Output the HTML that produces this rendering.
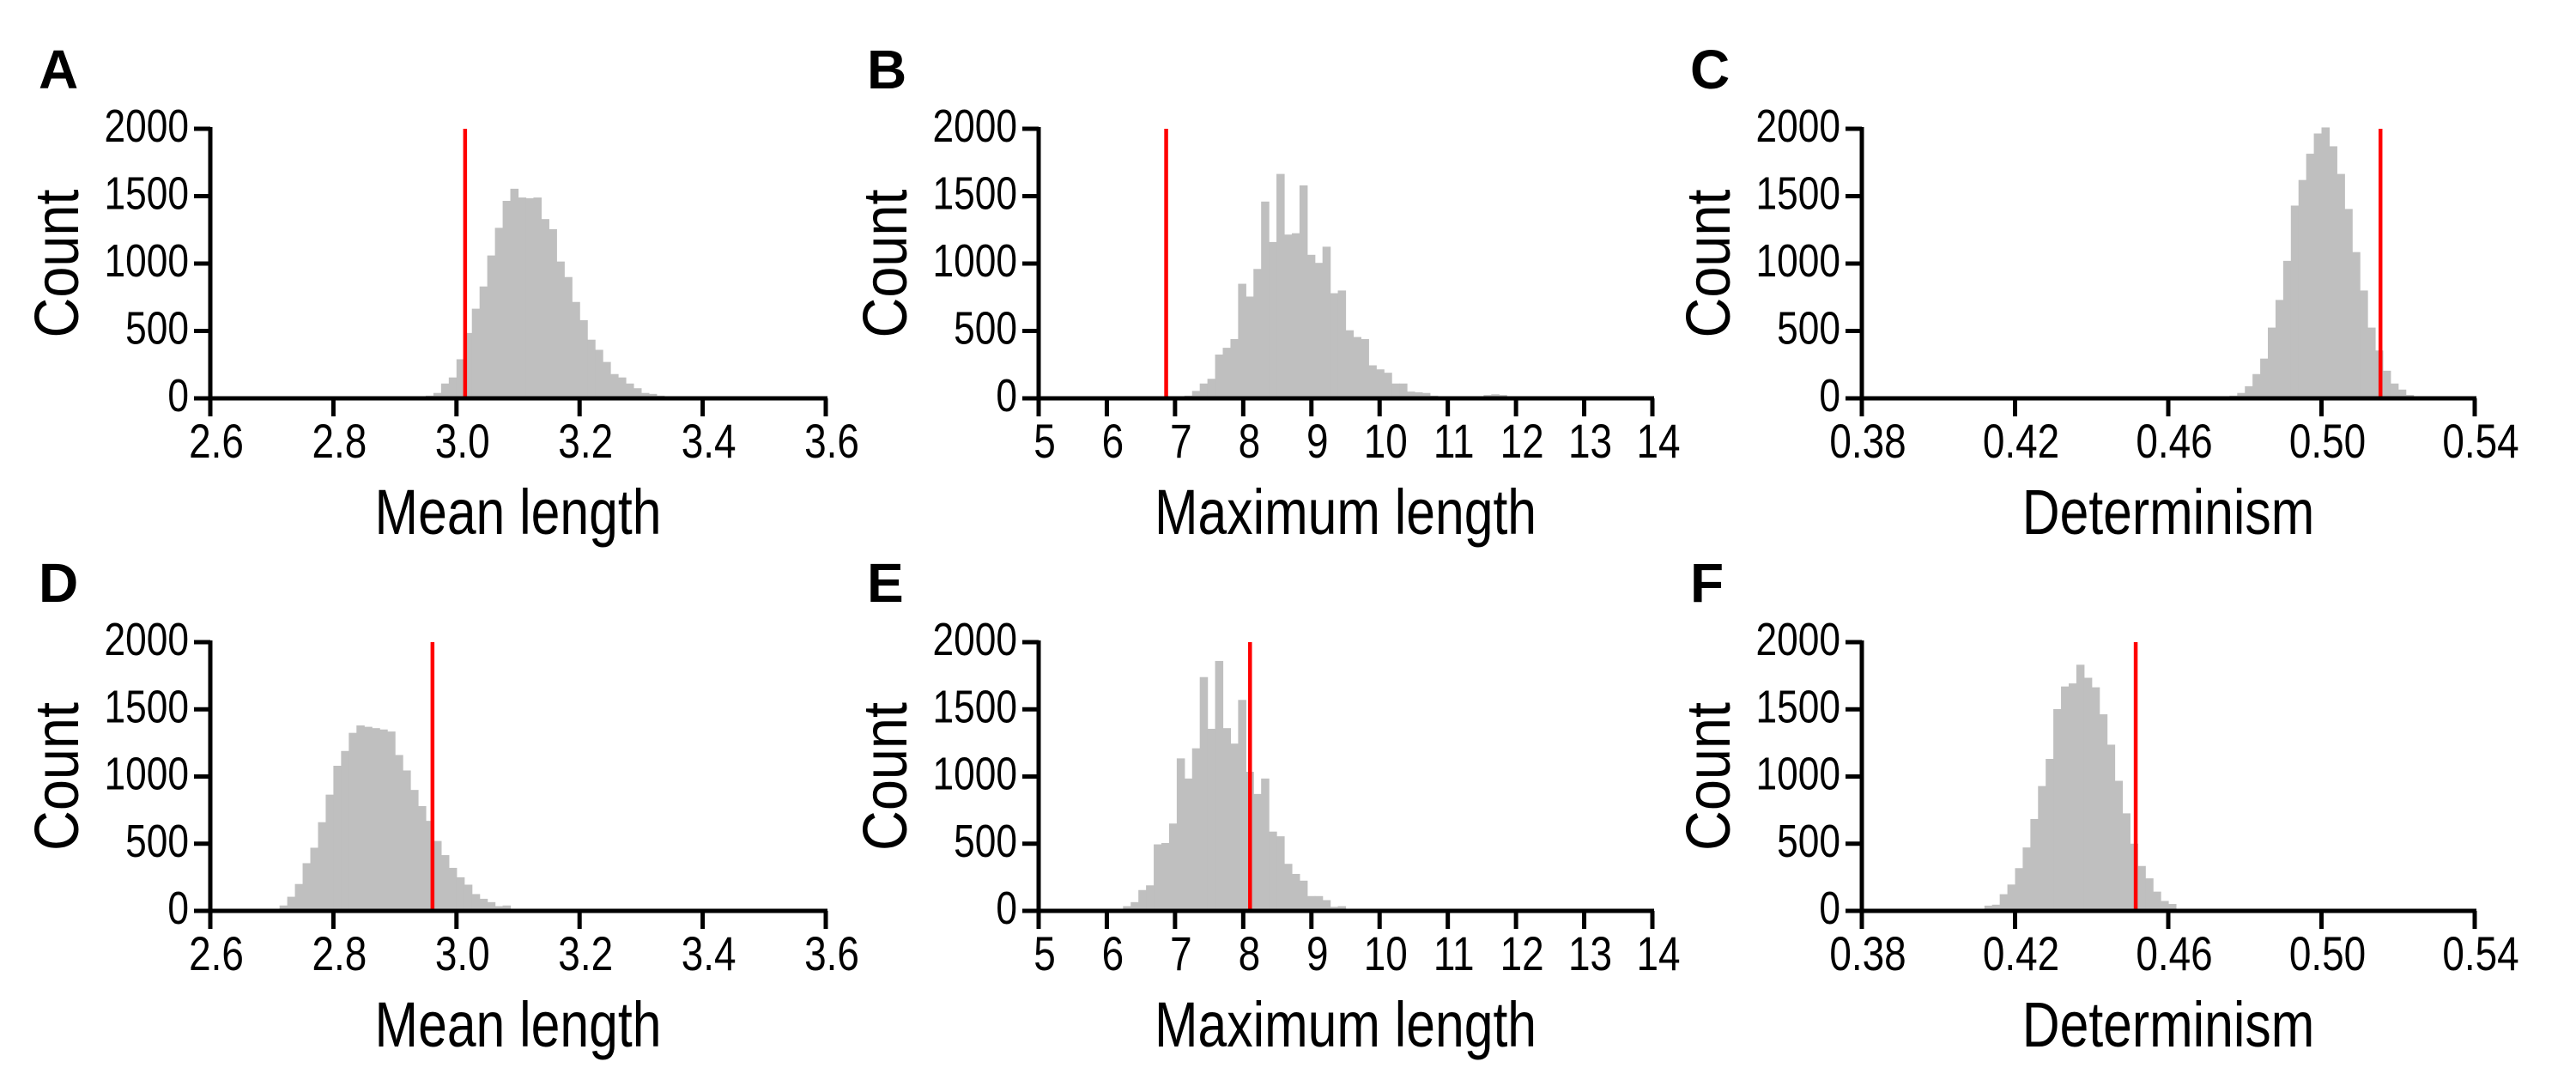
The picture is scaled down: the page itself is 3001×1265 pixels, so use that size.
<!DOCTYPE html>
<html><head><meta charset="utf-8"><title>Histograms</title>
<style>
html,body{margin:0;padding:0;background:#fff;}
svg{display:block;font-family:"Liberation Sans",Arial,sans-serif;}
</style></head>
<body>
<svg id="fig" width="3001" height="1265" viewBox="0 0 3001 1265" xmlns="http://www.w3.org/2000/svg"></svg>
<script>
// ---- data ----
const aStart = 2.95, aBin = 0.0125, aObserved = 3.014;
const aCounts = [20,40,110,155,290,485,665,830,1060,1265,1465,1555,1490,1485,1490,1330,1255,1015,900,715,580,435,360,270,180,155,110,75,40,33,20,10];
const bStart = 7.1375, bBin = 0.1125, bObserved = 6.87;
const bCounts = [20,55,110,145,325,375,440,850,755,960,1460,1160,1665,1215,1225,1580,1065,1005,1125,780,800,505,455,440,245,215,190,110,110,50,45,40,20,10,10,10,10,15,15,25,30,25,15,10,10,5];
const cStart = 0.476, cBin = 0.002, cObserved = 0.5154;
const cCounts = [20,40,90,180,295,525,730,1020,1430,1620,1815,1965,2010,1870,1665,1405,1085,800,525,355,205,110,65,25];
const dStart = 2.70, dBin = 0.0125, dObserved = 2.961;
const dCounts = [10,40,105,200,355,470,660,865,1080,1190,1325,1380,1370,1360,1350,1335,1160,1045,900,780,670,520,415,320,250,195,125,90,65,35,40,10];
const eStart = 6.2375, eBin = 0.1125, eObserved = 8.10;
const eCounts = [35,65,155,190,495,505,650,1135,985,1210,1740,1355,1860,1360,1245,1570,1035,870,985,590,555,350,275,225,110,110,80,30,35];
const fStart = 0.412, fBin = 0.002, fObserved = 0.4515;
const fCounts = [39,46,124,196,318,472,684,929,1131,1502,1670,1693,1832,1735,1664,1463,1237,968,726,500,334,242,143,74,51,12];

const meanTicks = [2.6,2.8,3.0,3.2,3.4,3.6];
const meanTickLabels = ["2.6","2.8","3.0","3.2","3.4","3.6"];
const maxTicks = [5,6,7,8,9,10,11,12,13,14];
const maxTickLabels = ["5","6","7","8","9","10","11","12","13","14"];
const detTicks = [0.38,0.42,0.46,0.50,0.54];
const detTickLabels = ["0.38","0.42","0.46","0.50","0.54"];
const countTicks = [0,500,1000,1500,2000];
const countTickLabels = ["0","500","1000","1500","2000"];

// ---- layout ----
const NS = "http://www.w3.org/2000/svg";
const svg = document.getElementById('fig');
function mk(tag, attrs, parent){
  const e = document.createElementNS(NS, tag);
  for (const k in attrs) e.setAttribute(k, attrs[k]);
  (parent||svg).appendChild(e);
  return e;
}
const SX = 0.82;
const panels = [
  {id:'a', letter:'A', left:245, width:717, top:150, zero:464, dom:[2.6,3.6], ticks:meanTicks, labels:meanTickLabels, title:'Mean length', start:aStart, bin:aBin, counts:aCounts, obs:aObserved},
  {id:'b', letter:'B', left:1210, width:715, top:150, zero:464, dom:[5,14], ticks:maxTicks, labels:maxTickLabels, title:'Maximum length', start:bStart, bin:bBin, counts:bCounts, obs:bObserved},
  {id:'c', letter:'C', left:2169, width:714, top:150, zero:464, dom:[0.38,0.54], ticks:detTicks, labels:detTickLabels, title:'Determinism', start:cStart, bin:cBin, counts:cCounts, obs:cObserved},
  {id:'d', letter:'D', left:245, width:717, top:748, zero:1061, dom:[2.6,3.6], ticks:meanTicks, labels:meanTickLabels, title:'Mean length', start:dStart, bin:dBin, counts:dCounts, obs:dObserved},
  {id:'e', letter:'E', left:1210, width:715, top:748, zero:1061, dom:[5,14], ticks:maxTicks, labels:maxTickLabels, title:'Maximum length', start:eStart, bin:eBin, counts:eCounts, obs:eObserved},
  {id:'f', letter:'F', left:2169, width:714, top:748, zero:1061, dom:[0.38,0.54], ticks:detTicks, labels:detTickLabels, title:'Determinism', start:fStart, bin:fBin, counts:fCounts, obs:fObserved}
];

panels.forEach(p => {
  const g = mk('g', {});
  
  
  const xs = v => p.left + (v - p.dom[0]) / (p.dom[1] - p.dom[0]) * p.width;
  const ys = v => p.zero - v / 2000 * (p.zero - p.top);

  const bars = mk('g', {}, g);
  
  
  p.counts.forEach((c, i) => {
    const x0 = xs(p.start + i * p.bin), x1 = xs(p.start + (i + 1) * p.bin);
    const r = mk('rect', {x:x0, y:ys(c), width:(x1 - x0) + 0.6, height:p.zero - ys(c), fill:'#bfbfbf'}, bars);
    
    
  });

  const rl = mk('line', {x1:xs(p.obs), x2:xs(p.obs), y1:ys(2000), y2:p.zero, stroke:'#ff0000', 'stroke-width':4.5}, g);
  
  

  const ya = mk('line', {x1:p.left, x2:p.left, y1:p.top - 2, y2:p.zero, stroke:'#000', 'stroke-width':5}, g);
  
  
  const xa = mk('line', {x1:p.left - 19, x2:p.left + p.width + 2, y1:p.zero, y2:p.zero, stroke:'#000', 'stroke-width':5}, g);
  
  

  countTicks.forEach((t, i) => {
    const y = ys(t);
    const tl = mk('line', {x1:p.left - 19, x2:p.left, y1:y, y2:y, stroke:'#000', 'stroke-width':5}, g);
    
    
    const tx = mk('text', {x:0, y:0, 'font-size':54, 'text-anchor':'end', fill:'#000', transform:'translate(' + (p.left - 25) + ' ' + (y + 15) + ') scale(' + SX + ' 1)'}, g);
    tx.textContent = countTickLabels[i];
    
    
  });
  p.ticks.forEach((t, i) => {
    const x = xs(t);
    const tl = mk('line', {x1:x, x2:x, y1:p.zero, y2:p.zero + 21, stroke:'#000', 'stroke-width':5}, g);
    
    
    const tx = mk('text', {x:0, y:0, 'font-size':56, 'text-anchor':'middle', fill:'#000', transform:'translate(' + (x + 7) + ' ' + (p.zero + 69) + ') scale(' + SX + ' 1)'}, g);
    tx.textContent = p.labels[i];
    
    
  });

  const xt = mk('text', {x:0, y:0, 'font-size':74, 'text-anchor':'middle', fill:'#000', transform:'translate(' + (p.left + p.width / 2) + ' ' + (p.zero + 158) + ') scale(' + SX + ' 1)'}, g);
  xt.textContent = p.title;
  
  
  const cy = (p.top + p.zero) / 2;
  const yt = mk('text', {x:0, y:0, 'font-size':72, 'text-anchor':'middle', fill:'#000', transform:'translate(' + (p.left - 154) + ' ' + cy + ') rotate(-90) scale(0.9 1)'}, g);
  yt.textContent = 'Count';
  
  

  const lt = mk('text', {x:p.left - 200, y:p.top - 47, 'font-size':64, 'font-weight':'bold', fill:'#000'}, g);
  lt.textContent = p.letter;
  
  
});
</script>
</body></html>
